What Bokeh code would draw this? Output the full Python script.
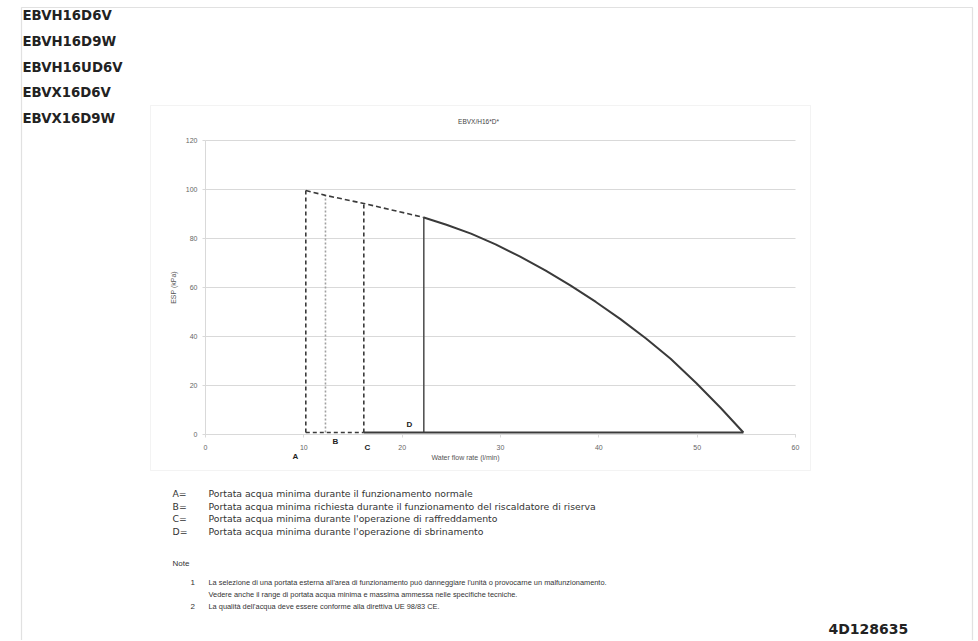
from bokeh.plotting import figure
from bokeh.models import Label, BoxAnnotation, Range1d, FixedTicker
from bokeh.embed import file_html
from bokeh.resources import INLINE

# ---------------- data ----------------
models = ["EBVH16D6V", "EBVH16D9W", "EBVH16UD6V", "EBVX16D6V", "EBVX16D9W"]
chart_title = "EBVX/H16*D*"
x_ticks = [0, 10, 20, 30, 40, 50, 60]
y_ticks = [0, 20, 40, 60, 80, 100, 120]
x_title = "Water flow rate (l/min)"
y_title = "ESP (kPa)"

point_names = ["A", "B", "C", "D"]
point_flow = [10.2, 12.2, 16.1, 22.2]      # l/min
point_esp = [99.6, 97.6, 94.3, 88.6]       # kPa
base_esp = 0.8

curve_flow = [22.2, 24.5, 27.0, 29.5, 32.0, 34.6, 37.1, 39.7, 42.2, 44.8, 47.3, 49.9, 52.4, 54.7]
curve_esp = [88.6, 85.6, 82.0, 77.6, 72.6, 66.9, 60.9, 54.1, 47.1, 39.2, 30.9, 21.0, 10.8, 0.8]

legend_keys = ["A=", "B=", "C=", "D="]
legend_texts = [
    "Portata acqua minima durante il funzionamento normale",
    " Portata acqua minima richiesta durante il funzionamento del riscaldatore di riserva",
    "Portata acqua minima durante l'operazione di raffreddamento",
    "Portata acqua minima durante l'operazione di sbrinamento",
]
note_title = "Note"
note_nums = ["1", "", "2"]
note_lines = [
    "La selezione di una portata esterna all'area di funzionamento può danneggiare l'unità o provocarne un malfunzionamento.",
    "Vedere anche il range di portata acqua minima e massima ammessa nelle specifiche tecniche.",
    "La qualità dell'acqua deve essere conforme alla direttiva UE 98/83 CE.",
]
doc_code = "4D128635"

# ---------------- layout (canvas pixels) ----------------
W, H = 976, 640
X0, X1 = 205, 795      # pixel of flow 0 and 60
Y0, Y1 = 434, 140      # pixel of ESP 0 and 120
ppx = (X1 - X0) / (x_ticks[-1] - x_ticks[0])
ppy = (Y0 - Y1) / (y_ticks[-1] - y_ticks[0])

p = figure(width=W, height=H, output_backend="svg", toolbar_location=None,
           x_range=Range1d(-X0 / ppx, (W - X0) / ppx),
           y_range=Range1d(-(H - Y0) / ppy, Y0 / ppy),
           min_border=0, min_border_left=0, min_border_right=0,
           min_border_top=0, min_border_bottom=0)
p.outline_line_color = None
p.background_fill_color = "white"
p.border_fill_color = "white"
p.xgrid.visible = False

grid_color = "#d9d9d9"
g = p.ygrid[0]
g.ticker = FixedTicker(ticks=y_ticks)
g.grid_line_color = grid_color
if "cross_bounds" in g.properties():
    g.cross_bounds = (x_ticks[0], x_ticks[-1])
else:
    g.visible = False
    p.segment(x0=[x_ticks[0]] * len(y_ticks), x1=[x_ticks[-1]] * len(y_ticks),
              y0=y_ticks, y1=y_ticks, line_color=grid_color, line_width=1)

p.xaxis.ticker = FixedTicker(ticks=x_ticks)
p.yaxis.ticker = FixedTicker(ticks=y_ticks)
p.xaxis.fixed_location = 0
p.yaxis.fixed_location = 0
p.xaxis.bounds = (x_ticks[0], x_ticks[-1])
p.yaxis.bounds = (y_ticks[0], y_ticks[-1])
for ax in (p.xaxis, p.yaxis):
    ax.axis_line_color = grid_color
    ax.major_tick_line_color = grid_color
    ax.major_tick_out = 3
    ax.major_tick_in = 0
    ax.minor_tick_line_color = None
    ax.major_label_text_font = "Liberation Sans"
    ax.major_label_text_font_size = "7px"
    ax.major_label_text_color = "#666666"
    ax.axis_label_text_font = "Liberation Sans"
    ax.axis_label_text_font_size = "7px"
    ax.axis_label_text_font_style = "normal"
    ax.axis_label_text_color = "#555555"
p.yaxis.axis_label = y_title
p.xaxis.major_label_standoff = 7
p.yaxis.major_label_standoff = 5
p.yaxis.axis_label_standoff = 6

dark = "#3a3a3a"
# A, B, C vertical dashed
for i, col, dash in [(0, dark, "4 3"), (1, "#a0a0a0", "2 2"), (2, dark, "4 3")]:
    p.line([point_flow[i], point_flow[i]], [base_esp, point_esp[i]],
           line_color=col, line_width=1.6, line_dash=dash)
# D vertical solid
p.line([point_flow[3], point_flow[3]], [base_esp, point_esp[3]],
       line_color="#555555", line_width=1.6)
# top dashed between A and D
p.line(point_flow, point_esp, line_color=dark, line_width=1.6, line_dash="5 3")
# bottom dashed A->C and solid C->end
p.line([point_flow[0], point_flow[2]], [base_esp, base_esp],
       line_color=dark, line_width=1.6, line_dash="4 3")
p.line([point_flow[2], curve_flow[-1]], [base_esp, base_esp],
       line_color=dark, line_width=2)
# pump curve
p.line(curve_flow, curve_esp, line_color=dark, line_width=2, line_join="round")


def lab(text, px, py, size="7px", style="normal", font="Liberation Sans",
        color="#333333", align="left", baseline="middle", angle=0):
    p.add_layout(Label(x=px, y=H - py, x_units="screen", y_units="screen",
                       text=text, text_font=font, text_font_size=size,
                       text_font_style=style, text_color=color,
                       text_align=align, text_baseline=baseline, angle=angle))


def box(l, t, r, b, color, width):
    p.add_layout(BoxAnnotation(left=l, right=r, bottom=H - b, top=H - t,
                               left_units="screen", right_units="screen",
                               bottom_units="screen", top_units="screen",
                               fill_color=None, line_color=color, line_width=width))


# frames
box(21, 7, 972, 660, "#9a9a9a", 1.2)
box(150, 105, 810, 470, "#d6d6d6", 1)

# model names
for i, m in enumerate(models):
    lab(m, 22, 15 + i * 25.8, size="13.3px", style="bold", font="DejaVu Sans", color="#222222")

lab(chart_title, 478, 121, size="6.5px", align="center", color="#444444")
lab(x_title, 465, 457, size="7px", align="center", color="#555555")

# point letters
lab("A", 295, 456, size="8px", style="bold", color="#222222", align="center")
lab("B", 335, 441, size="8px", style="bold", color="#222222", align="center")
lab("C", 367, 447, size="8px", style="bold", color="#222222", align="center")
lab("D", 409, 424, size="8px", style="bold", color="#222222", align="center")

# legend
for i, (k, t) in enumerate(zip(legend_keys, legend_texts)):
    y = 493 + i * 12.7
    lab(k, 172, y, size="9.3px", font="DejaVu Sans")
    lab(t, 208, y, size="9.3px", font="DejaVu Sans")

lab(note_title, 172, 563, size="8px")
for i, (n, t) in enumerate(zip(note_nums, note_lines)):
    y = 582 + i * 12
    if n:
        lab(n, 190, y, size="8px")
    lab(t, 208, y, size="7.4px")

lab(doc_code, 828, 628, size="14px", style="bold", font="DejaVu Sans", color="#222222")

open("out.html", "w").write(file_html(p, INLINE))
